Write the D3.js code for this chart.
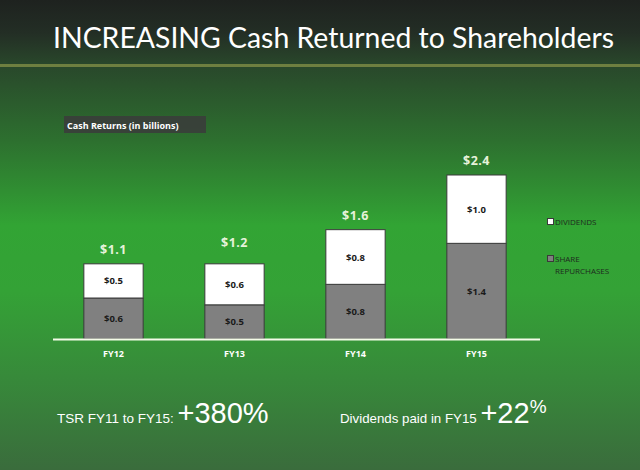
<!DOCTYPE html>
<html><head><meta charset="utf-8">
<script src="https://cdn.jsdelivr.net/npm/d3@7"></script>
<style>html,body{margin:0;padding:0;background:#2a6a2a;}svg{display:block;}</style>
</head><body>
<script>
const categories = ["FY12", "FY13", "FY14", "FY15"];
const repurchases = [0.6, 0.5, 0.8, 1.4];
const dividends = [0.5, 0.6, 0.8, 1.0];
const totals = [1.1, 1.2, 1.6, 2.4];
const repLabels = ["$0.6", "$0.5", "$0.8", "$1.4"];
const divLabels = ["$0.5", "$0.6", "$0.8", "$1.0"];
const totalLabels = ["$1.1", "$1.2", "$1.6", "$2.4"];
const seriesNames = ["DIVIDENDS", "SHARE REPURCHASES"];

const W = 640, H = 470;
const svg = d3.select("body").append("svg").attr("width", W).attr("height", H);
const defs = svg.append("defs");
const bg = defs.append("linearGradient").attr("id", "bg").attr("x1", 0).attr("y1", 0).attr("x2", 0).attr("y2", 1);
[[0, "#1e221f"], [0.07, "#232e25"], [0.14, "#29482b"], [0.3, "#2d702f"], [0.48, "#32a434"], [0.62, "#34a236"], [0.8, "#378a3a"], [1, "#3a6c3c"]]
  .forEach(([o, c]) => bg.append("stop").attr("offset", o).attr("stop-color", c));
svg.append("rect").attr("width", W).attr("height", H).attr("fill", "url(#bg)");

// title
svg.append("text").attr("x", 53).attr("y", 48).attr("fill", "#ffffff")
  .attr("font-family", "Lato, 'Open Sans', sans-serif").attr("font-size", 28.4)
  .text("INCREASING Cash Returned to Shareholders");
svg.append("rect").attr("x", 0).attr("y", 64).attr("width", W).attr("height", 3).attr("fill", "#6e7f40");

// chart caption box
svg.append("rect").attr("x", 64).attr("y", 116).attr("width", 142).attr("height", 17).attr("fill", "#3b3b3b").attr("opacity", 0.85);
svg.append("text").attr("x", 67).attr("y", 128.5).attr("fill", "#ffffff")
  .attr("font-family", "'Open Sans', sans-serif").attr("font-size", 9).attr("font-weight", "bold")
  .text("Cash Returns (in billions)");

const x = d3.scaleBand().domain(categories).range([53, 537]).paddingInner(0.51).paddingOuter(0.255);
const y = d3.scaleLinear().domain([0, 2.4]).range([339, 175]);

const g = svg.append("g");
categories.forEach((c, i) => {
  const x0 = x(c), bw = x.bandwidth();
  g.append("rect").attr("x", x0).attr("y", y(repurchases[i])).attr("width", bw)
    .attr("height", y(0) - y(repurchases[i])).attr("fill", "#808080").attr("stroke", "#3a3a3a").attr("stroke-width", 1);
  g.append("rect").attr("x", x0).attr("y", y(repurchases[i] + dividends[i])).attr("width", bw)
    .attr("height", y(repurchases[i]) - y(repurchases[i] + dividends[i])).attr("fill", "#ffffff").attr("stroke", "#3a3a3a").attr("stroke-width", 1);
  const cx = x0 + bw / 2;
  g.append("text").attr("x", cx).attr("y", (y(0) + y(repurchases[i])) / 2 + 3.5).attr("text-anchor", "middle")
    .attr("font-family", "'Open Sans', sans-serif").attr("font-size", 9.5).attr("font-weight", "bold").attr("fill", "#1a1a1a")
    .text(repLabels[i]);
  g.append("text").attr("x", cx).attr("y", (y(repurchases[i]) + y(repurchases[i] + dividends[i])) / 2 + 3.5).attr("text-anchor", "middle")
    .attr("font-family", "'Open Sans', sans-serif").attr("font-size", 9.5).attr("font-weight", "bold").attr("fill", "#1a1a1a")
    .text(divLabels[i]);
  g.append("text").attr("x", cx).attr("y", y(totals[i]) - 10).attr("text-anchor", "middle")
    .attr("font-family", "'Open Sans', sans-serif").attr("font-size", 12.5).attr("font-weight", "bold").attr("fill", "#e6f2da")
    .attr("letter-spacing", 0.5)
    .text(totalLabels[i]);
});

// baseline + axis
svg.append("line").attr("x1", 53).attr("x2", 540).attr("y1", 339.5).attr("y2", 339.5).attr("stroke", "#f4fbe8").attr("stroke-width", 2);
const ax = svg.append("g").attr("transform", "translate(0,340)").call(d3.axisBottom(x).tickSize(0).tickPadding(11));
ax.select(".domain").remove();
ax.selectAll("text").attr("fill", "#ffffff").attr("font-family", "'Open Sans', sans-serif").attr("font-size", 9).attr("font-weight", "bold");

// legend
const leg = svg.append("g").attr("font-family", "'Open Sans', sans-serif").attr("font-size", 8).attr("fill", "#1e2a1e");
leg.append("rect").attr("x", 547.5).attr("y", 218.5).attr("width", 6).attr("height", 6).attr("fill", "#ffffff").attr("stroke", "#3a3a3a");
leg.append("text").attr("x", 555).attr("y", 225).text(seriesNames[0]);
leg.append("rect").attr("x", 547.5).attr("y", 255.5).attr("width", 6).attr("height", 6).attr("fill", "#808080").attr("stroke", "#3a3a3a");
leg.append("text").attr("x", 555).attr("y", 262).text("SHARE");
leg.append("text").attr("x", 555).attr("y", 274).text("REPURCHASES");

// bottom stats
const bt = svg.append("g").attr("font-family", "'Liberation Sans', Arial, sans-serif").attr("fill", "#ffffff");
const t1 = bt.append("text").attr("x", 57).attr("y", 423);
t1.append("tspan").attr("font-size", 13.5).text("TSR FY11 to FY15: ");
t1.append("tspan").attr("font-size", 29).text("+380%");
const t2 = bt.append("text").attr("x", 340).attr("y", 423);
t2.append("tspan").attr("font-size", 13.3).text("Dividends paid in FY15 ");
t2.append("tspan").attr("font-size", 29).text("+22");
t2.append("tspan").attr("font-size", 19).attr("dy", -10).text("%");
</script>
</body></html>
